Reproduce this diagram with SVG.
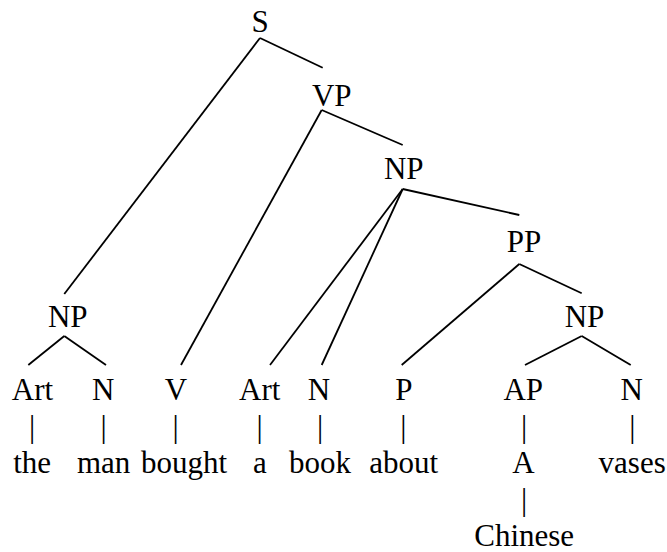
<svg xmlns="http://www.w3.org/2000/svg" width="667" height="552" viewBox="0 0 667 552" font-family="'Liberation Serif', 'DejaVu Serif', serif">
<style>
text{font-family:'Liberation Serif','DejaVu Serif',serif;font-size:31px;fill:#000;text-anchor:middle}
.e line{stroke:#000;stroke-width:1.8;stroke-linecap:butt}
.bar line{stroke:#444;stroke-width:1.2}
</style>
<rect width="667" height="552" fill="#fff"/>
<g class="e" id="connectors">
<line x1="260" y1="38" x2="322.7" y2="67.7"/>
<line x1="260" y1="38" x2="64.3" y2="294"/>
<line x1="321.7" y1="110" x2="402.7" y2="145"/>
<line x1="321.7" y1="110" x2="181" y2="365"/>
<line x1="402.7" y1="189" x2="519.3" y2="215"/>
<line x1="402.7" y1="189" x2="270" y2="365"/>
<line x1="402.7" y1="189" x2="321.7" y2="365"/>
<line x1="519.3" y1="264" x2="401.7" y2="365"/>
<line x1="519.3" y1="264" x2="581.7" y2="293.3"/>
<line x1="64.3" y1="336" x2="28.3" y2="365"/>
<line x1="64.3" y1="336" x2="106" y2="365"/>
<line x1="581.7" y1="336" x2="525" y2="365"/>
<line x1="581.7" y1="336" x2="630.7" y2="365"/>
</g>
<g id="S"><text x="260" y="32">S</text></g>
<g id="VP"><text x="331.7" y="106">VP</text></g>
<g id="NP2"><text x="403.7" y="179.3">NP</text></g>
<g id="PP"><text x="524" y="252.3">PP</text></g>
<g id="NP1"><text x="67.8" y="326.7">NP</text></g>
<g id="NP3"><text x="584.5" y="326.7">NP</text></g>
<g id="Art1"><text x="32.5" y="400">Art</text><text x="32" y="437">|</text><text x="32.2" y="472.7">the</text></g>
<g id="N1"><text x="103.3" y="400">N</text><text x="103.7" y="437">|</text><text x="103.7" y="472.7">man</text></g>
<g id="V"><text x="176" y="400">V</text><text x="175.7" y="437">|</text><text x="184" y="472.7">bought</text></g>
<g id="Art2"><text x="259.7" y="400">Art</text><text x="259.7" y="437">|</text><text x="260" y="472.7">a</text></g>
<g id="N2"><text x="319" y="400">N</text><text x="320" y="437">|</text><text x="320" y="472.7">book</text></g>
<g id="P"><text x="403.8" y="400">P</text><text x="403.3" y="437">|</text><text x="403.8" y="472.7">about</text></g>
<g id="AP"><text x="523.3" y="400">AP</text><text x="524" y="437">|</text><text x="523.5" y="472.7">A</text><text x="524" y="510">|</text><text x="524.2" y="545.5">Chinese</text></g>
<g id="N3"><text x="631.8" y="400">N</text><text x="632.3" y="437">|</text><text x="632.2" y="472.7">vases</text></g>
</svg>
